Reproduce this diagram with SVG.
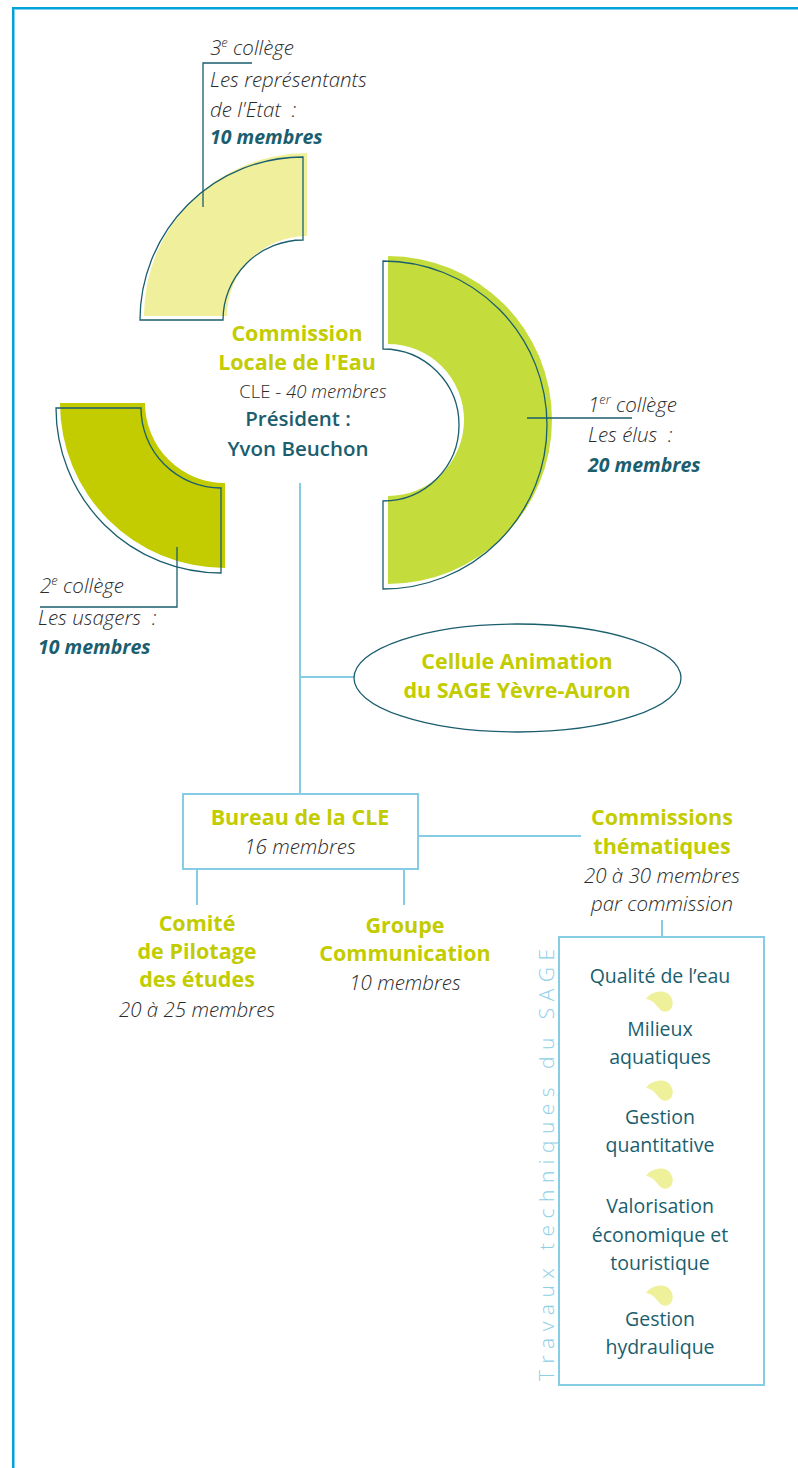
<svg xmlns="http://www.w3.org/2000/svg" width="798" height="1468" viewBox="0 0 798 1468">
<style>
text{font-family:"Open Sans",Lato,"Liberation Sans",sans-serif;}
.it{font-style:italic;font-weight:300;font-size:20.5px;fill:#2b2b2b;}
.bt{font-style:italic;font-weight:bold;font-size:19.5px;fill:#1b5e6e;}
.gb{font-weight:bold;font-size:21.5px;fill:#c2cc00;text-anchor:middle;}
.tb{font-weight:600;font-size:20.5px;fill:#1b5e6e;text-anchor:middle;}
.rg{font-weight:300;font-size:18.5px;fill:#2b2b2b;}
.item{font-weight:400;font-size:19.5px;fill:#1b5e6e;text-anchor:middle;}
.ol{fill:none;stroke:#1b5e6e;stroke-width:1.3;}
.ld{fill:none;stroke:#1b5e6e;stroke-width:1.3;}
.cn{fill:none;stroke:#86cce4;stroke-width:2;}
.leaf{fill:#eef09a;}
</style>
<defs>
<path id="leaf" d="M-17,-4 C-11,-13 5,-15 9,-4 C12,5 5,11 -1,8 C-6,5 -8,-3 -17,-4 Z"/>
</defs>
<rect width="798" height="1468" fill="#fff"/>
<g id="border">
<rect x="12" y="7" width="786" height="2" fill="#00a2d9"/>
<rect x="14" y="9" width="784" height="1" fill="#7fd0ec"/>
<rect x="12" y="7" width="2" height="1461" fill="#00a2d9"/>
<rect x="14" y="9" width="1" height="1459" fill="#7fd0ec"/>
</g>
<g id="connectors">
<line class="cn" x1="300" y1="483" x2="300" y2="794"/>
<line class="cn" x1="300" y1="677" x2="354" y2="677"/>
<line class="cn" x1="197" y1="869" x2="197" y2="905"/>
<line class="cn" x1="404" y1="869" x2="404" y2="905"/>
<line class="cn" x1="418" y1="836" x2="581" y2="836"/>
<line class="cn" x1="662" y1="920" x2="662" y2="937"/>
</g>
<g id="college3">
<path d="M307,153 L307,236 A80,80 0 0 0 227,316 L144,316 A163,163 0 0 1 307,153 Z" fill="#f0f09c"/>
<path class="ol" d="M303,157 L303,240 A80,80 0 0 0 223,320 L140,320 A163,163 0 0 1 303,157 Z"/>
<polyline class="ld" points="252,63 203,63 203,207"/>
<text class="it" x="210" y="55">3<tspan font-size="13" dy="-8">e</tspan><tspan dy="8"> collège</tspan></text>
<text class="it" x="210" y="87">Les représentants</text>
<text class="it" x="210" y="117">de l'Etat&#160; :</text>
<text class="bt" x="210" y="144">10 membres</text>
</g>
<g id="college1">
<path d="M388,256 A164,164 0 0 1 388,584 L388,496 A76,76 0 0 0 388,344 Z" fill="#c4dc3c"/>
<path class="ol" d="M383,261 A164,164 0 0 1 383,589 L383,501 A76,76 0 0 0 383,349 Z"/>
<line class="ld" x1="527" y1="418" x2="632" y2="418"/>
<text class="it" x="588" y="412">1<tspan font-size="13" dy="-8">er</tspan><tspan dy="8"> collège</tspan></text>
<text class="it" x="588" y="442">Les élus&#160; :</text>
<text class="bt" x="588" y="472">20 membres</text>
</g>
<g id="college2">
<path d="M60,403 L145,403 A80,80 0 0 0 225,483 L225,568 A165,165 0 0 1 60,403 Z" fill="#c2cc00"/>
<path class="ol" d="M56,408 L141,408 A80,80 0 0 0 221,488 L221,573 A165,165 0 0 1 56,408 Z"/>
<polyline class="ld" points="177,547 177,607 40,607"/>
<text class="it" x="40" y="593">2<tspan font-size="13" dy="-8">e</tspan><tspan dy="8"> collège</tspan></text>
<text class="it" x="38" y="625">Les usagers&#160; :</text>
<text class="bt" x="38" y="654">10 membres</text>
</g>
<g id="cle">
<text class="gb" x="297" y="341">Commission</text>
<text class="gb" x="297" y="370">Locale de l'Eau</text>
<text class="rg" x="313" y="398" text-anchor="middle">CLE - <tspan font-style="italic">40 membres</tspan></text>
<text class="tb" x="298" y="426">Président :</text>
<text class="tb" x="298" y="456">Yvon Beuchon</text>
</g>
<g id="cellule">
<ellipse cx="517.5" cy="678" rx="163.5" ry="54" class="ol"/>
<text class="gb" x="517" y="669">Cellule Animation</text>
<text class="gb" x="517" y="698">du SAGE Yèvre-Auron</text>
</g>
<g id="bureau">
<rect class="cn" x="183" y="794" width="235" height="75" fill="#fff"/>
<text class="gb" x="300" y="825">Bureau de la CLE</text>
<text class="it" x="300" y="854" text-anchor="middle">16 membres</text>
</g>
<g id="comite">
<text class="gb" x="197" y="931">Comité</text>
<text class="gb" x="197" y="959">de Pilotage</text>
<text class="gb" x="197" y="987">des études</text>
<text class="it" x="197" y="1017" text-anchor="middle">20 à 25 membres</text>
</g>
<g id="groupe">
<text class="gb" x="405" y="933">Groupe</text>
<text class="gb" x="405" y="961">Communication</text>
<text class="it" x="405" y="990" text-anchor="middle">10 membres</text>
</g>
<g id="commissions">
<text class="gb" x="662" y="825">Commissions</text>
<text class="gb" x="662" y="854">thématiques</text>
<text class="it" x="662" y="883" text-anchor="middle">20 à 30 membres</text>
<text class="it" x="662" y="911" text-anchor="middle">par commission</text>
</g>
<g id="travaux">
<rect class="cn" x="559" y="937" width="205" height="448" fill="#fff"/>
<text transform="translate(554,1381) rotate(-90)" x="0" y="0" font-size="21" font-weight="300" fill="#8ecfe6" textLength="432" lengthAdjust="spacing">Travaux techniques du SAGE</text>
<text class="item" x="660" y="983">Qualité de l’eau</text>
<use href="#leaf" class="leaf" x="663" y="1003"/>
<text class="item" x="660" y="1036">Milieux</text>
<text class="item" x="660" y="1064">aquatiques</text>
<use href="#leaf" class="leaf" x="663" y="1092"/>
<text class="item" x="660" y="1124">Gestion</text>
<text class="item" x="660" y="1152">quantitative</text>
<use href="#leaf" class="leaf" x="663" y="1180"/>
<text class="item" x="660" y="1213">Valorisation</text>
<text class="item" x="660" y="1242">économique et</text>
<text class="item" x="660" y="1270">touristique</text>
<use href="#leaf" class="leaf" x="663" y="1297"/>
<text class="item" x="660" y="1326">Gestion</text>
<text class="item" x="660" y="1354">hydraulique</text>
</g>
</svg>
